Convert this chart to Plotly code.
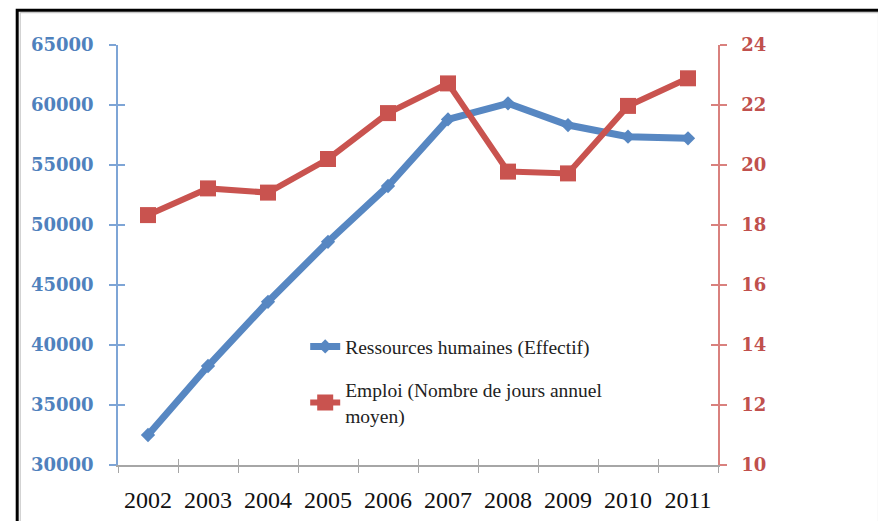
import plotly.graph_objects as go

years = ["2002", "2003", "2004", "2005", "2006", "2007", "2008", "2009", "2010", "2011"]
effectif = [32500, 38250, 43600, 48600, 53250, 58800, 60140, 58330, 57360, 57220]
jours = [18.33, 19.22, 19.08, 20.2, 21.73, 22.72, 19.78, 19.72, 21.97, 22.89]

left_ticks = [30000, 35000, 40000, 45000, 50000, 55000, 60000, 65000]
left_labels = ["30000", "35000", "40000", "45000", "50000", "55000", "60000", "65000"]
right_ticks = [10, 12, 14, 16, 18, 20, 22, 24]
right_labels = ["10", "12", "14", "16", "18", "20", "22", "24"]

name_rh = "Ressources humaines (Effectif)"
name_emp = "Emploi (Nombre de jours annuel<br>moyen)"

BLUE = "#5787C2"
RED = "#C9534F"
BLUE_AX = "#7EA5D6"
RED_AX = "#D9817E"
GREY_AX = "#A6A6A6"

fig = go.Figure()
fig.add_trace(go.Scatter(
    x=years, y=effectif, name=name_rh, mode="lines+markers",
    line=dict(color=BLUE, width=7), marker=dict(symbol="diamond", size=11, color=BLUE),
    legendgroup="a", yaxis="y", xaxis="x"))
fig.add_trace(go.Scatter(
    x=years, y=jours, name=name_emp, mode="lines+markers",
    line=dict(color=RED, width=6), marker=dict(symbol="square", size=16, color=RED),
    legendgroup="b", yaxis="y2", xaxis="x"))

serif_bold = dict(family="DejaVu Serif", size=18, weight="bold")

fig.update_layout(
    width=878, height=513,
    margin=dict(l=110, r=168, t=37, b=56, autoexpand=False),
    paper_bgcolor="white", plot_bgcolor="white",
    showlegend=True,
    legend=dict(x=0.312, y=0.328, xanchor="left", yanchor="top",
                bgcolor="rgba(0,0,0,0)", traceorder="grouped", tracegroupgap=15,
                font=dict(family="Liberation Serif", size=19.5, color="#222222")),
    xaxis=dict(type="category", categoryarray=years, range=[-0.5, 9.5],
               showline=True, linecolor=GREY_AX, linewidth=1.5,
               ticks="outside", ticklen=6, tickcolor=GREY_AX, tickwidth=1.2,
               tickson="boundaries", showgrid=False, zeroline=False,
               ticklabelstandoff=12,
               tickfont=dict(family="Liberation Serif", size=24, color="#111111")),
    xaxis2=dict(overlaying="x", anchor="y", side="bottom", range=[0, 10], dtick=1,
                tick0=0, showticklabels=False, showline=False, showgrid=False,
                zeroline=False, ticks="inside", ticklen=6, tickcolor=GREY_AX, tickwidth=1.2),
    yaxis=dict(range=[30000, 65000], tickvals=left_ticks, ticktext=left_labels,
               showgrid=False, zeroline=False,
               showline=True, linecolor=BLUE_AX, linewidth=1.5,
               ticks="outside", ticklen=7, tickcolor=BLUE_AX, tickwidth=1.5,
               ticklabelstandoff=12,
               tickfont=dict(color="#4F81BD", **serif_bold)),
    yaxis3=dict(overlaying="y", anchor="x", side="left", range=[30000, 65000],
                tickvals=left_ticks, showticklabels=False, showgrid=False,
                zeroline=False, showline=False,
                ticks="inside", ticklen=7, tickcolor=BLUE_AX, tickwidth=1.5),
    yaxis2=dict(overlaying="y", side="right", anchor="x", range=[10, 24],
                tickvals=right_ticks, ticktext=right_labels,
                showgrid=False, zeroline=False,
                showline=True, linecolor=RED_AX, linewidth=1.5,
                ticks="outside", ticklen=7, tickcolor=RED_AX, tickwidth=1.5,
                ticklabelstandoff=11,
                tickfont=dict(color="#C0504D", **serif_bold)),
    yaxis4=dict(overlaying="y", anchor="x", side="right", range=[10, 24],
                tickvals=right_ticks, showticklabels=False, showgrid=False,
                zeroline=False, showline=False,
                ticks="inside", ticklen=7, tickcolor=RED_AX, tickwidth=1.5),
    shapes=[
        dict(type="rect", xref="paper", yref="paper",
             x0=-0.168, x1=1.272, y0=-0.2, y1=1.0825,
             line=dict(color="black", width=3), layer="above"),
        dict(type="rect", xref="paper", yref="paper",
             x0=-0.163, x1=1.2675, y0=-0.2, y1=1.077,
             line=dict(color="#C8C8C8", width=1.2), layer="above"),
    ],
)

# invisible helper traces so the overlay tick axes are rendered
fig.add_trace(go.Scatter(x=[0], y=[30000], xaxis="x2", yaxis="y3", mode="markers",
                         marker=dict(opacity=0), showlegend=False, hoverinfo="skip"))
fig.add_trace(go.Scatter(x=[0], y=[10], xaxis="x2", yaxis="y4", mode="markers",
                         marker=dict(opacity=0), showlegend=False, hoverinfo="skip"))

fig.write_html("out.html")
